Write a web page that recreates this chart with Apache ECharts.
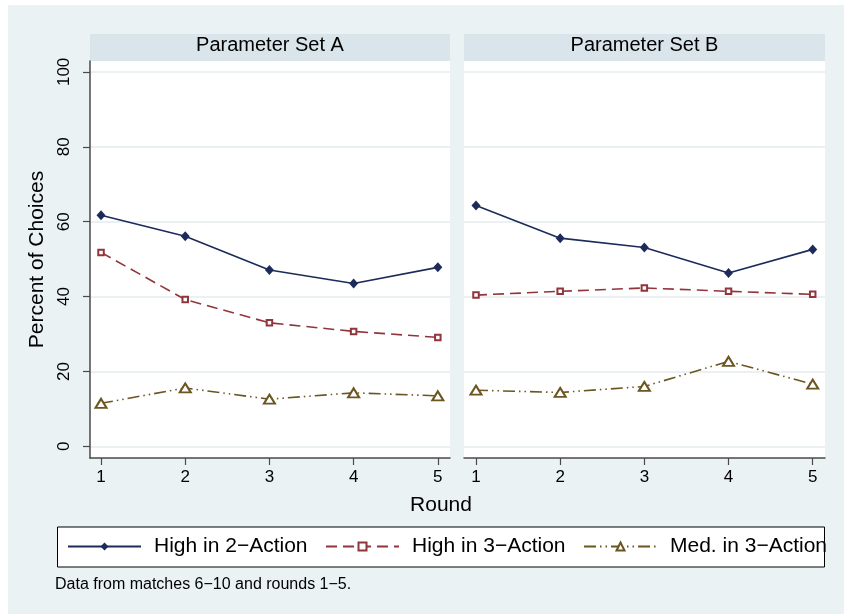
<!DOCTYPE html>
<html><head><meta charset="utf-8">
<script src="https://cdn.jsdelivr.net/npm/echarts@6/dist/echarts.min.js"></script>
<style>html,body{margin:0;padding:0;background:#fff}#c{width:844px;height:615px}</style>
</head><body><div id="c"></div>
<script>
// ---- data ----
const rounds = [1, 2, 3, 4, 5];
const yTicks = [0, 20, 40, 60, 80, 100];
const panelTitles = ['Parameter Set A', 'Parameter Set B'];
const seriesNames = ['High in 2\u2212Action', 'High in 3\u2212Action', 'Med. in 3\u2212Action'];
const high2A = [61.7, 56.1, 47.1, 43.5, 47.8];
const high3A = [51.8, 39.2, 33.0, 30.7, 29.1];
const med3A  = [11.5, 15.6, 12.6, 14.3, 13.5];
const high2B = [64.3, 55.6, 53.1, 46.3, 52.6];
const high3B = [40.4, 41.4, 42.3, 41.4, 40.6];
const med3B  = [15.0, 14.4, 16.0, 22.7, 16.6];
const xTitle = 'Round';
const yTitle = 'Percent of Choices';
const note = 'Data from matches 6\u221210 and rounds 1\u22125.';

// ---- styles ----
const FONT = '"Liberation Sans", Arial, sans-serif';
const axisColor = '#4a4a4a';
const gridColor = '#e5edef';
const styles = [
  { color: '#1c2b5a', symbol: 'diamond', symbolSize: [9, 10], lineStyle: { width: 1.6, type: 'solid' }, itemStyle: {} },
  { color: '#90353b', symbol: 'emptyRect', symbolSize: 5.5, lineStyle: { width: 1.6, type: [11, 6] }, itemStyle: { borderWidth: 1.3 } },
  { color: '#6b5520', symbol: 'emptyTriangle', symbolSize: [11, 9], lineStyle: { width: 1.6, type: [12, 4, 1.5, 4, 1.5, 4] }, itemStyle: { borderWidth: 1.5 } }
];
const panelData = [[high2A, high3A, med3A], [high2B, high3B, med3B]];

const grids = [
  { left: 90, top: 61, width: 360, height: 397 },
  { left: 464, top: 61, width: 361, height: 397 }
];
const xRanges = [[0.869, 5.1445], [0.8575, 5.146]];

const series = [];
panelData.forEach((arr, p) => {
  arr.forEach((vals, i) => {
    const s = styles[i];
    series.push({
      type: 'line', name: seriesNames[i], xAxisIndex: p, yAxisIndex: p,
      data: rounds.map((r, k) => [r, vals[k]]),
      symbol: s.symbol, symbolSize: s.symbolSize, showAllSymbol: true,
      color: s.color,
      lineStyle: Object.assign({ color: s.color }, s.lineStyle),
      itemStyle: Object.assign({ color: s.color }, s.itemStyle),
      emphasis: { disabled: true }, animation: false, z: 3
    });
  });
});

const xAxes = grids.map((g, p) => ({
  type: 'value', gridIndex: p, min: xRanges[p][0], max: xRanges[p][1],
  axisLine: { show: true, onZero: false, lineStyle: { color: axisColor, width: 1.5 } },
  axisTick: { show: true, length: 7, customValues: rounds, lineStyle: { color: axisColor, width: 1.2 } },
  axisLabel: { customValues: rounds, fontSize: 17, color: '#000', margin: 11, fontFamily: FONT },
  splitLine: { show: false }
}));

const yAxes = grids.map((g, p) => ({
  type: 'value', gridIndex: p, min: -3.1, max: 102.9,
  axisLine: { show: p === 0, lineStyle: { color: axisColor, width: 1.5 } },
  axisTick: { show: p === 0, length: 7, customValues: yTicks, lineStyle: { color: axisColor, width: 1.2 } },
  axisLabel: { show: p === 0, customValues: yTicks, rotate: 90, fontSize: 17, color: '#000', margin: 17, fontFamily: FONT },
  splitLine: { show: true, lineStyle: { color: gridColor, width: 1.5 } },
  name: p === 0 ? yTitle : '', nameLocation: 'middle', nameGap: 42,
  nameTextStyle: { fontSize: 21, color: '#000', fontFamily: FONT }
}));

const graphics = [
  { type: 'rect', z: -10, shape: { x: 8, y: 5, width: 836, height: 609 }, style: { fill: '#eaf2f3' }, silent: true },
  { type: 'rect', z: -5, shape: { x: 90, y: 34, width: 360, height: 27 }, style: { fill: '#d9e5ea' }, silent: true },
  { type: 'rect', z: -5, shape: { x: 464, y: 34, width: 361, height: 27 }, style: { fill: '#d9e5ea' }, silent: true },
  { type: 'rect', z: -5, shape: { x: 57.5, y: 527, width: 767, height: 40 }, style: { fill: '#fff', stroke: '#000', lineWidth: 1 }, silent: true },
  { type: 'text', z: 5, style: { text: panelTitles[0], x: 270, y: 45.5, align: 'center', verticalAlign: 'middle', font: '20px ' + FONT, fill: '#000' } },
  { type: 'text', z: 5, style: { text: panelTitles[1], x: 644.5, y: 45.5, align: 'center', verticalAlign: 'middle', font: '20px ' + FONT, fill: '#000' } },
  { type: 'text', z: 5, style: { text: xTitle, x: 441, y: 505.5, align: 'center', verticalAlign: 'middle', font: '21px ' + FONT, fill: '#000' } },
  { type: 'text', z: 5, style: { text: note, x: 55, y: 585, align: 'left', verticalAlign: 'middle', font: '16px ' + FONT, fill: '#000' } }
];

const chart = echarts.init(document.getElementById('c'), null, { renderer: 'canvas' });
chart.setOption({
  backgroundColor: '#fff',
  animation: false,
  textStyle: { fontFamily: FONT },
  grid: grids.map(g => Object.assign({ show: true, backgroundColor: '#fff', borderWidth: 0 }, g)),
  xAxis: xAxes,
  yAxis: yAxes,
  legend: {
    data: seriesNames, left: 67, top: 536, padding: 0, itemGap: 17.5,
    itemWidth: 73, itemHeight: 10,
    textStyle: { fontSize: 21, color: '#000', fontFamily: FONT, padding: [0, 0, 0, 8] }
  },
  graphic: graphics,
  series: series
});
</script>
</body></html>
